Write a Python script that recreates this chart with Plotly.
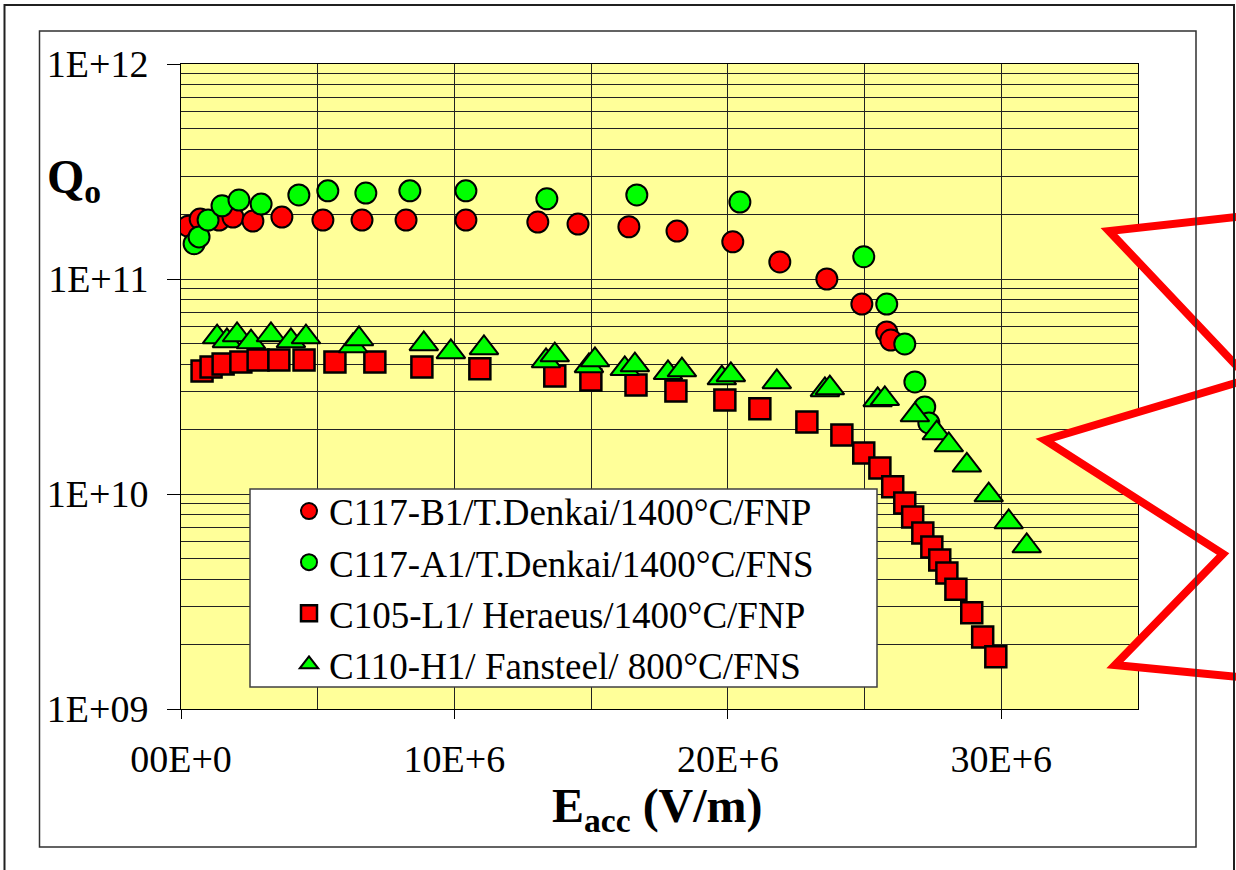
import plotly.graph_objects as go

# Q0 vs accelerating gradient for four cavities
E_b1 = [0.26e6, 0.70e6, 1.39e6, 1.90e6, 2.63e6, 3.69e6, 5.19e6, 6.62e6, 8.23e6, 10.42e6,
        13.05e6, 14.52e6, 16.38e6, 18.14e6, 20.18e6, 21.90e6, 23.62e6, 24.90e6, 25.81e6, 25.96e6]
Q_b1 = [1.76e11, 1.90e11, 1.88e11, 1.94e11, 1.86e11, 1.94e11, 1.88e11, 1.88e11, 1.88e11, 1.88e11,
        1.84e11, 1.80e11, 1.75e11, 1.67e11, 1.49e11, 1.20e11, 1.00e11, 7.65e10, 5.67e10, 5.20e10]

E_a1 = [0.48e6, 0.66e6, 0.99e6, 1.50e6, 2.12e6, 2.93e6, 4.31e6, 5.37e6, 6.76e6, 8.37e6,
        10.42e6, 13.38e6, 16.67e6, 20.44e6, 24.97e6, 25.81e6, 26.47e6, 26.84e6, 27.20e6, 27.35e6]
Q_a1 = [1.46e11, 1.57e11, 1.88e11, 2.19e11, 2.33e11, 2.23e11, 2.46e11, 2.57e11, 2.51e11, 2.57e11,
        2.57e11, 2.36e11, 2.46e11, 2.28e11, 1.27e11, 7.65e10, 4.99e10, 3.32e10, 2.54e10, 2.14e10]

E_l1 = [0.77e6, 1.10e6, 1.54e6, 2.19e6, 2.82e6, 3.58e6, 4.50e6, 5.63e6, 7.09e6, 8.81e6,
        10.93e6, 13.67e6, 14.99e6, 16.64e6, 18.10e6, 19.89e6, 21.17e6, 22.89e6, 24.17e6, 24.97e6,
        25.56e6, 26.03e6, 26.47e6, 26.76e6, 27.13e6, 27.46e6, 27.75e6, 28.01e6, 28.34e6, 28.92e6,
        29.32e6, 29.80e6]
Q_l1 = [3.73e10, 3.90e10, 4.02e10, 4.11e10, 4.20e10, 4.20e10, 4.20e10, 4.11e10, 4.11e10, 3.90e10,
        3.82e10, 3.54e10, 3.39e10, 3.21e10, 3.01e10, 2.74e10, 2.49e10, 2.16e10, 1.88e10, 1.55e10,
        1.32e10, 1.08e10, 9.08e9, 7.82e9, 6.59e9, 5.67e9, 4.93e9, 4.29e9, 3.61e9, 2.80e9,
        2.16e9, 1.75e9]

E_h1 = [1.32e6, 1.68e6, 2.05e6, 2.56e6, 3.29e6, 4.02e6, 4.57e6, 6.29e6, 6.51e6, 8.88e6,
        9.87e6, 11.08e6, 13.35e6, 13.67e6, 14.92e6, 15.14e6, 16.23e6, 16.60e6, 17.81e6, 18.32e6,
        19.78e6, 20.11e6, 21.79e6, 23.55e6, 23.73e6, 25.48e6, 25.74e6, 26.84e6, 27.64e6, 28.08e6,
        28.74e6, 29.54e6, 30.27e6, 30.93e6]
Q_h1 = [5.37e10, 5.15e10, 5.49e10, 5.09e10, 5.49e10, 5.15e10, 5.37e10, 4.88e10, 5.26e10, 4.99e10,
        4.58e10, 4.78e10, 4.16e10, 4.43e10, 3.94e10, 4.20e10, 3.82e10, 3.98e10, 3.66e10, 3.77e10,
        3.46e10, 3.58e10, 3.32e10, 3.05e10, 3.11e10, 2.74e10, 2.77e10, 2.33e10, 1.92e10, 1.69e10,
        1.36e10, 9.89e9, 7.41e9, 5.73e9]

series_names = [
    "C117-B1/T.Denkai/1400°C/FNP",
    "C117-A1/T.Denkai/1400°C/FNS",
    "C105-L1/ Heraeus/1400°C/FNP",
    "C110-H1/ Fansteel/ 800°C/FNS",
]

x_tickvals = [0, 10e6, 20e6, 30e6]
x_ticktext = ["00E+0", "10E+6", "20E+6", "30E+6"]
y_tickvals = [1e9, 1e10, 1e11, 1e12]
y_ticktext = ["1E+09", "1E+10", "1E+11", "1E+12"]

W, H = 1236, 870
FONT = "Liberation Serif"
RED = "#FF0000"
GREEN = "#00FF00"


def fx(p):
    return p / W


def fy(p):
    return 1 - p / H


fig = go.Figure()

specs = [
    (E_b1, Q_b1, "circle", RED, 21, 2),
    (E_a1, Q_a1, "circle", GREEN, 21, 2),
    (E_l1, Q_l1, "square", RED, 21, 2.5),
    (E_h1, Q_h1, "triangle-up", GREEN, 25, 2),
]
for (xs, ys, sym, col, sz, lw), name in zip(specs, series_names):
    fig.add_trace(go.Scatter(
        x=xs, y=ys, mode="markers", name=name,
        marker=dict(symbol=sym, color=col, size=sz, line=dict(color="black", width=lw)),
    ))

# Decorative starburst callout on the right edge
burst = [(1310, 209), (1109, 231), (1249, 379), (1045, 440), (1223, 554), (1115, 665), (1310, 684)]
path = "M " + " L ".join(f"{fx(x):.5f},{fy(y):.5f}" for x, y in burst) + " Z"

shapes = [
    dict(type="path", path=path, xref="paper", yref="paper", layer="above",
         fillcolor="white", line=dict(color=RED, width=8)),
    # legend box
    dict(type="rect", xref="paper", yref="paper", layer="above",
         x0=fx(250), x1=fx(877), y0=fy(489), y1=fy(687),
         fillcolor="white", line=dict(color="#404040", width=1.5)),
    # inner and outer frames
    dict(type="rect", xref="paper", yref="paper", layer="above",
         x0=fx(39.5), x1=fx(1196), y0=fy(31), y1=fy(847),
         line=dict(color="#303030", width=1.5)),
    dict(type="rect", xref="paper", yref="paper", layer="above",
         x0=fx(4.5), x1=fx(1234), y0=fy(5), y1=fy(880),
         line=dict(color="#202020", width=2)),
]

annotations = [
    dict(text="<b>Q<sub>o</sub></b>", xref="paper", yref="paper",
         x=fx(45), y=fy(180), xanchor="left", yanchor="middle", showarrow=False,
         font=dict(family=FONT, size=48, color="black")),
    dict(text="<b>E<sub>acc</sub> (V/m)</b>", xref="paper", yref="paper",
         x=fx(657), y=fy(809), xanchor="center", yanchor="middle", showarrow=False,
         font=dict(family=FONT, size=48, color="black")),
]

fig.update_layout(
    width=W, height=H,
    autosize=False,
    margin=dict(l=0, r=0, t=0, b=0, pad=0, autoexpand=False),
    paper_bgcolor="white",
    plot_bgcolor="#FFFF99",
    font=dict(family=FONT, size=38, color="black"),
    showlegend=True,
    legend=dict(
        x=fx(289), y=fy(588), xanchor="left", yanchor="middle",
        bgcolor="rgba(0,0,0,0)", borderwidth=0,
        font=dict(family=FONT, size=37, color="black"),
        itemsizing="trace",
    ),
    shapes=shapes,
    annotations=annotations,
    xaxis=dict(
        domain=[fx(181), fx(1138)],
        range=[0, 35e6],
        automargin=False,
        tickmode="array", tickvals=x_tickvals, ticktext=x_ticktext,
        ticks="outside", ticklen=9, tickcolor="black", tickwidth=1,
        ticklabelstandoff=7,
        showgrid=True, gridcolor="#222222", gridwidth=1,
        minor=dict(dtick=5e6, tick0=0, showgrid=True, gridcolor="#222222", gridwidth=1, ticks=""),
        showline=True, mirror=True, linecolor="black", linewidth=1,
        zeroline=False,
        tickfont=dict(family=FONT, size=38),
    ),
    yaxis=dict(
        domain=[fy(709), fy(64)],
        type="log", range=[9, 12],
        automargin=False,
        tickmode="array", tickvals=y_tickvals, ticktext=y_ticktext,
        ticks="outside", ticklen=13, tickcolor="black", tickwidth=1,
        ticklabelstandoff=11,
        showgrid=True, gridcolor="#222222", gridwidth=1,
        minor=dict(dtick="D1", showgrid=True, gridcolor="#222222", gridwidth=1, ticks=""),
        showline=True, mirror=True, linecolor="black", linewidth=1,
        zeroline=False,
        tickfont=dict(family=FONT, size=38),
    ),
)

fig.write_html("out.html", config={"responsive": False})
